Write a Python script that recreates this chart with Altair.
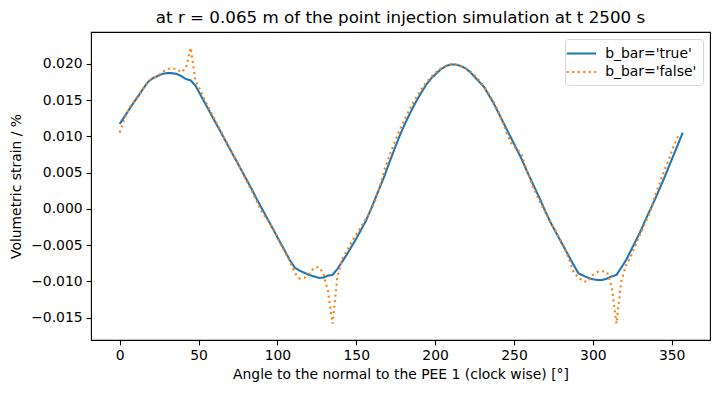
import altair as alt
import pandas as pd

# ---- data ----
angles_true = list(range(0, 358, 3))  # 0 .. 357
strain_true = [
    0.0117, 0.0127, 0.0137, 0.0147, 0.0156, 0.0166, 0.0175, 0.0180, 0.0183, 0.0186,  # 0-27
    0.0187, 0.0187, 0.0186, 0.0183, 0.0179, 0.0177, 0.0170, 0.0158, 0.0146, 0.0134,  # 30-57
    0.0122, 0.0110, 0.0098, 0.0086, 0.0074, 0.0062, 0.0050, 0.0038, 0.0026, 0.0013,  # 60-87
    0.0001, -0.0011, -0.0023, -0.0035, -0.0047, -0.0059, -0.0071, -0.0081, -0.0085, -0.0088,  # 90-117
    -0.0091, -0.0093, -0.0095, -0.0095, -0.0092, -0.0091, -0.0083, -0.0073, -0.0063, -0.0052,  # 120-147
    -0.0041, -0.0029, -0.0017, -0.0002, 0.0014, 0.0030, 0.0046, 0.0064, 0.0081, 0.0098,  # 150-177
    0.0113, 0.0127, 0.0140, 0.0152, 0.0163, 0.0173, 0.0181, 0.0187, 0.0193, 0.0197,  # 180-207
    0.0199, 0.0199, 0.0197, 0.0194, 0.0189, 0.0182, 0.0175, 0.0168, 0.0157, 0.0146,  # 210-237
    0.0133, 0.0120, 0.0107, 0.0094, 0.0081, 0.0068, 0.0053, 0.0039, 0.0025, 0.0011,  # 240-267
    -0.0004, -0.0018, -0.0030, -0.0042, -0.0054, -0.0066, -0.0078, -0.0089, -0.0092, -0.0095,  # 270-297
    -0.0097, -0.0098, -0.0098, -0.0096, -0.0093, -0.0091, -0.0081, -0.0071, -0.0058, -0.0045,  # 300-327
    -0.0032, -0.0017, -0.0003, 0.0011, 0.0026, 0.0041, 0.0057, 0.0073, 0.0089, 0.0105,  # 330-357
]

angles_false = list(range(0, 355, 3))  # 0 .. 354
strain_false = [
    0.0105, 0.0124, 0.0139, 0.0148, 0.0157, 0.0166, 0.0176, 0.0180, 0.0183, 0.0188,  # 0-27
    0.0193, 0.0193, 0.0193, 0.0188, 0.0194, 0.0222, 0.0177, 0.0164, 0.0150, 0.0137,  # 30-57
    0.0124, 0.0112, 0.0099, 0.0087, 0.0074, 0.0063, 0.0049, 0.0036, 0.0024, 0.0010,  # 60-87
    -0.0004, -0.0013, -0.0022, -0.0034, -0.0049, -0.0060, -0.0073, -0.0088, -0.0096, -0.0095,  # 90-117
    -0.0089, -0.0082, -0.0080, -0.0088, -0.0113, -0.0158, -0.0094, -0.0069, -0.0058, -0.0046,  # 120-147
    -0.0035, -0.0025, -0.0014, -0.0003, 0.0011, 0.0031, 0.0055, 0.0073, 0.0090, 0.0106,  # 150-177
    0.0120, 0.0134, 0.0146, 0.0157, 0.0167, 0.0176, 0.0183, 0.0189, 0.0194, 0.0197,  # 180-207
    0.0199, 0.0199, 0.0197, 0.0194, 0.0190, 0.0184, 0.0177, 0.0169, 0.0159, 0.0148,  # 210-237
    0.0135, 0.0118, 0.0101, 0.0087, 0.0083, 0.0074, 0.0054, 0.0036, 0.0021, 0.0007,  # 240-267
    -0.0005, -0.0017, -0.0029, -0.0041, -0.0053, -0.0070, -0.0088, -0.0095, -0.0100, -0.0100,  # 270-297
    -0.0091, -0.0087, -0.0086, -0.0087, -0.0108, -0.0158, -0.0100, -0.0078, -0.0066, -0.0050,  # 300-327
    -0.0035, -0.0020, -0.0006, 0.0015, 0.0033, 0.0051, 0.0067, 0.0085, 0.0100,  # 330-354
]

series_names = ["b_bar='true'", "b_bar='false'"]
series_colors = ["#1f77b4", "#ff7f0e"]
x_ticks = [0, 50, 100, 150, 200, 250, 300, 350]
y_ticks = [-0.015, -0.010, -0.005, 0.000, 0.005, 0.010, 0.015, 0.020]

df = pd.concat([
    pd.DataFrame({"angle": angles_true, "strain": strain_true, "series": series_names[0], "order": 0}),
    pd.DataFrame({"angle": angles_false, "strain": strain_false, "series": series_names[1], "order": 1}),
])

FONT = "DejaVu Sans"

chart = alt.Chart(df).mark_line(strokeWidth=2.08, clip=True).encode(
    x=alt.X("angle:Q",
            scale=alt.Scale(domain=[-18.2, 374.3], nice=False, zero=False),
            axis=alt.Axis(values=x_ticks, format="d",
                          title="Angle to the normal to the PEE 1 (clock wise) [°]",
                          titlePadding=5)),
    y=alt.Y("strain:Q",
            scale=alt.Scale(domain=[-0.01807, 0.02437], nice=False, zero=False),
            axis=alt.Axis(values=y_ticks, format=".3f",
                          title="Volumetric strain / %", titlePadding=7)),
    color=alt.Color("series:N",
                    scale=alt.Scale(domain=series_names, range=series_colors),
                    legend=alt.Legend(title=None, orient="top-right", offset=7,
                                      symbolType="M-2.1,0L2.1,0", symbolSize=196,
                                      symbolStrokeWidth=2.08, symbolOffset=1.9,
                                      labelFont=FONT, labelFontSize=13.9,
                                      labelColor="black", labelOffset=15.3,
                                      rowPadding=2.5, padding=6,
                                      fillColor="white", strokeColor="#d6d6d6",
                                      cornerRadius=3)),
    strokeDash=alt.StrokeDash("series:N",
                              scale=alt.Scale(domain=series_names,
                                              range=[[1, 0], [2.08, 3.44]]),
                              legend=alt.Legend(title=None)),
    order=alt.Order("order:Q"),
).properties(
    width=619,
    height=308,
    padding={"left": 83, "top": 24, "right": 2, "bottom": 45},
    autosize=alt.AutoSizeParams(type="none"),
    title=alt.Title("at r = 0.065 m of the point injection simulation at t 2500 s",
                    font=FONT, fontSize=16.7, fontWeight="normal", color="black",
                    anchor="middle", offset=5),
).configure(
    background="white"
).configure_view(
    stroke="black", strokeWidth=1.1
).configure_axis(
    domain=False, grid=False,
    tickColor="black", tickWidth=1.1, tickSize=4.9,
    labelFont=FONT, labelFontSize=13.9, labelColor="black", labelPadding=4,
    titleFont=FONT, titleFontSize=13.9, titleFontWeight="normal", titleColor="black",
)

chart.save("out.html", embed_options={"renderer": "svg", "actions": False})
